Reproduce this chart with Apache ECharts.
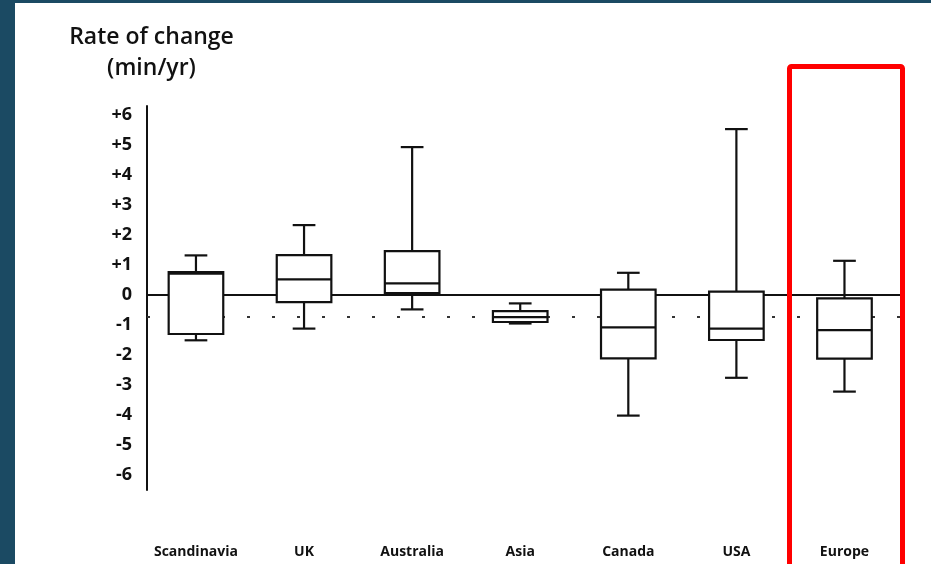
<!DOCTYPE html>
<html>
<head>
<meta charset="utf-8">
<script src="https://cdn.jsdelivr.net/npm/echarts@6/dist/echarts.min.js"></script>
<style>html,body{margin:0;padding:0;background:#fff;}#c{width:931px;height:564px;}</style>
</head>
<body>
<div id="c"></div>
<script>
const categories = ['Scandinavia', 'UK', 'Australia', 'Asia', 'Canada', 'USA', 'Europe'];
const lowWhisker  = [-1.51, -1.12, -0.48, -0.95, -4.02, -2.76, -3.22];
const q1          = [-1.30, -0.24,  0.06, -0.90, -2.11, -1.50, -2.12];
const median      = [ 0.71,  0.52,  0.39, -0.74, -1.08, -1.12, -1.17];
const q3          = [ 0.76,  1.33,  1.46, -0.54,  0.18,  0.11, -0.11];
const highWhisker = [ 1.32,  2.33,  4.93, -0.28,  0.74,  5.53,  1.14];
const yTickValues = [-6, -5, -4, -3, -2, -1, 0, 1, 2, 3, 4, 5, 6];
const zeroValue = 0;
const referenceValue = -0.73;

const FONT = 'Open Sans';
const INK = '#111';

const data = categories.map((c, i) => [i, lowWhisker[i], q1[i], median[i], q3[i], highWhisker[i]]);

function renderItem(params, api) {
  const x = api.value(0);
  const p = v => api.coord([x, v]);
  const unit = api.size([1, 0])[0];
  const boxW = unit * 0.505;
  const capW = unit * 0.21;
  const lo = p(api.value(1)), b1 = p(api.value(2)), md = p(api.value(3)), b3 = p(api.value(4)), hi = p(api.value(5));
  const cx = lo[0];
  const st = { stroke: INK, lineWidth: 2.2, fill: null };
  const ln = (x1, y1, x2, y2) => ({ type: 'line', shape: { x1, y1, x2, y2 }, style: st });
  return {
    type: 'group',
    children: [
      ln(cx, hi[1], cx, b3[1]),
      ln(cx, b1[1], cx, lo[1]),
      ln(cx - capW / 2, hi[1], cx + capW / 2, hi[1]),
      ln(cx - capW / 2, lo[1], cx + capW / 2, lo[1]),
      { type: 'rect', shape: { x: cx - boxW / 2, y: b3[1], width: boxW, height: b1[1] - b3[1] },
        style: { stroke: INK, lineWidth: 2.2, fill: '#fff' } },
      ln(cx - boxW / 2, md[1], cx + boxW / 2, md[1])
    ]
  };
}

const chart = echarts.init(document.getElementById('c'));
chart.setOption({
  backgroundColor: '#fff',
  animation: false,
  title: {
    text: 'Rate of change\n(min/yr)',
    left: 146.5, top: 17, textAlign: 'center',
    textStyle: { fontFamily: FONT, fontSize: 23, fontWeight: 600, color: INK, lineHeight: 31, align: 'center' }
  },
  grid: { left: 147, right: 26, top: 106, height: 384 },
  xAxis: {
    type: 'value', min: -0.453, max: 6.56,
    axisLine: { show: false }, axisTick: { show: false }, splitLine: { show: false },
    axisLabel: {
      customValues: categories.map((c, i) => i),
      formatter: v => categories[Math.round(v)] || '',
      margin: 55, fontFamily: FONT, fontSize: 14, fontWeight: 'bold', color: INK
    }
  },
  yAxis: {
    type: 'value', min: -6.5, max: 6.3,
    axisLine: { show: true, onZero: false, lineStyle: { color: INK, width: 2 } },
    axisTick: { show: false }, splitLine: { show: false },
    axisLabel: {
      customValues: yTickValues,
      formatter: v => (v > 0 ? '+' + v : String(v)),
      margin: 15, fontFamily: FONT, fontSize: 18, fontWeight: 'bold', color: INK
    }
  },
  series: [
    {
      type: 'line', data: [], z: 1, silent: true,
      markLine: {
        z: 1, silent: true, symbol: ['none', 'none'], label: { show: false },
        data: [
          { yAxis: zeroValue, lineStyle: { color: INK, width: 2, type: 'solid' } },
          { yAxis: referenceValue, lineStyle: { color: '#333', width: 1.8, type: [3, 22] } }
        ]
      }
    },
    {
      type: 'custom', z: 3, data: data, renderItem: renderItem,
      encode: { x: 0, y: [1, 2, 3, 4, 5] }
    }
  ],
  graphic: [
    { type: 'rect', left: 0, top: 0, shape: { width: 15, height: 564 }, style: { fill: '#1b4a63' }, silent: true },
    { type: 'rect', left: 0, top: 0, shape: { width: 931, height: 3 }, style: { fill: '#1b4a63' }, silent: true },
    { type: 'rect', shape: { x: 789.5, y: 66.5, width: 113, height: 520, r: 2 },
      style: { stroke: '#ff0000', lineWidth: 5, fill: null }, silent: true, z: 10 }
  ]
});
</script>
</body>
</html>
